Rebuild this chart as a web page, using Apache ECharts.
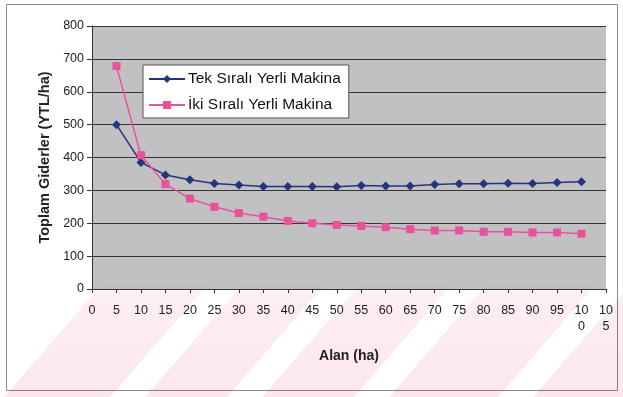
<!DOCTYPE html>
<html>
<head>
<meta charset="utf-8">
<script src="https://cdn.jsdelivr.net/npm/echarts@6/dist/echarts.min.js"></script>
<style>
  html, body { margin: 0; padding: 0; background: #ffffff; }
  #chart { width: 623px; height: 397px; }
</style>
</head>
<body>
<div id="chart"></div>
<script>
// Area (ha) at each measured point
const alan = [5, 10, 15, 20, 25, 30, 35, 40, 45, 50, 55, 60, 65, 70, 75, 80, 85, 90, 95, 100];
// Total cost per hectare (YTL/ha)
const tekSirali = [500, 385, 347, 332, 321, 316, 312, 312, 312, 311, 315, 313, 313, 318, 320, 320, 322, 321, 324, 326];
const ikiSirali = [678, 407, 319, 275, 250, 231, 220, 207, 200, 195, 192, 188, 182, 178, 178, 174, 174, 172, 172, 168];
// X tick labels, narrow cells wrap the three-digit ones
const xTickLabels = ['0', '5', '10', '15', '20', '25', '30', '35', '40', '45', '50',
  '55', '60', '65', '70', '75', '80', '85', '90', '95', '10\n0', '10\n5'];
const seriesNames = ['Tek Sıralı Yerli Makina', 'İki Sıralı Yerli Makina'];

const chart = echarts.init(document.getElementById('chart'), null, { renderer: 'canvas' });
const font = '"Liberation Sans", Arial, sans-serif';
const pair = (xs, ys) => xs.map((x, i) => [x, ys[i]]);

// Faint diagonal pink bands across the lower part of the page
const bands = [[4, 110], [145, 227], [262, 354], [389, 498], [533, 640]];
const bandShapes = bands.map(([a, b]) => ({
  type: 'polygon',
  z: 100,
  silent: true,
  shape: { points: [[a, 397], [b, 397], [b + 100, 282], [a + 100, 282]] },
  style: {
    fill: new echarts.graphic.LinearGradient(0, 0, 0, 1, [
      { offset: 0, color: 'rgba(246,190,202,0)' },
      { offset: 0.1, color: 'rgba(246,190,202,0.26)' },
      { offset: 1, color: 'rgba(246,190,202,0.36)' }
    ]),
    blend: 'multiply'
  }
}));

chart.setOption({
  animation: false,
  backgroundColor: '#ffffff',
  textStyle: { fontFamily: font },
  graphic: [
    {
      type: 'rect',
      z: 0,
      silent: true,
      shape: { x: 6.5, y: 4.5, width: 611, height: 386 },
      style: { fill: 'none', stroke: '#8a8a8a', lineWidth: 1 }
    }
  ].concat(bandShapes),
  grid: {
    left: 92, right: 17, top: 26, bottom: 108,
    show: true,
    backgroundColor: '#c1c0c3',
    borderWidth: 0
  },
  legend: {
    orient: 'vertical',
    left: 143, top: 65,
    padding: [6, 8, 5, 5],
    backgroundColor: '#ffffff',
    borderColor: '#555555',
    borderWidth: 1,
    itemWidth: 36,
    itemHeight: 10,
    itemGap: 10,
    textStyle: { fontFamily: font, fontSize: 15.5, color: '#111111', padding: [0, 0, 0, -2] },
    data: seriesNames
  },
  xAxis: {
    type: 'value',
    min: 0, max: 105, interval: 5,
    name: 'Alan (ha)',
    nameLocation: 'middle',
    nameGap: 60,
    nameTextStyle: { fontFamily: font, fontSize: 14, fontWeight: 'bold', color: '#222222' },
    axisLine: { show: true, onZero: false, lineStyle: { color: '#333333', width: 1 } },
    axisTick: { show: true, length: 4, lineStyle: { color: '#333333' } },
    splitLine: { show: false },
    axisLabel: {
      fontFamily: font, fontSize: 12.5, color: '#222222', margin: 14, lineHeight: 16,
      formatter: (v) => xTickLabels[Math.round(v / 5)]
    }
  },
  yAxis: {
    type: 'value',
    min: 0, max: 800, interval: 100,
    name: 'Toplam Giderler (YTL/ha)',
    nameLocation: 'middle',
    nameGap: 40,
    nameTextStyle: { fontFamily: font, fontSize: 14.5, fontWeight: 'bold', color: '#222222' },
    axisLine: { show: true, lineStyle: { color: '#333333', width: 1 } },
    axisTick: { show: true, length: 5, lineStyle: { color: '#333333' } },
    splitLine: { show: true, lineStyle: { color: '#353535', width: 1 } },
    axisLabel: { fontFamily: font, fontSize: 12.5, color: '#222222', margin: 8 }
  },
  series: [
    {
      name: seriesNames[0],
      type: 'line',
      data: pair(alan, tekSirali),
      symbol: 'diamond',
      symbolSize: 9,
      lineStyle: { color: '#26347f', width: 1.5 },
      itemStyle: { color: '#26347f' }
    },
    {
      name: seriesNames[1],
      type: 'line',
      data: pair(alan, ikiSirali),
      symbol: 'rect',
      symbolSize: 8,
      lineStyle: { color: '#e8529a', width: 1.5 },
      itemStyle: { color: '#e8529a' }
    }
  ]
});
</script>
</body>
</html>
